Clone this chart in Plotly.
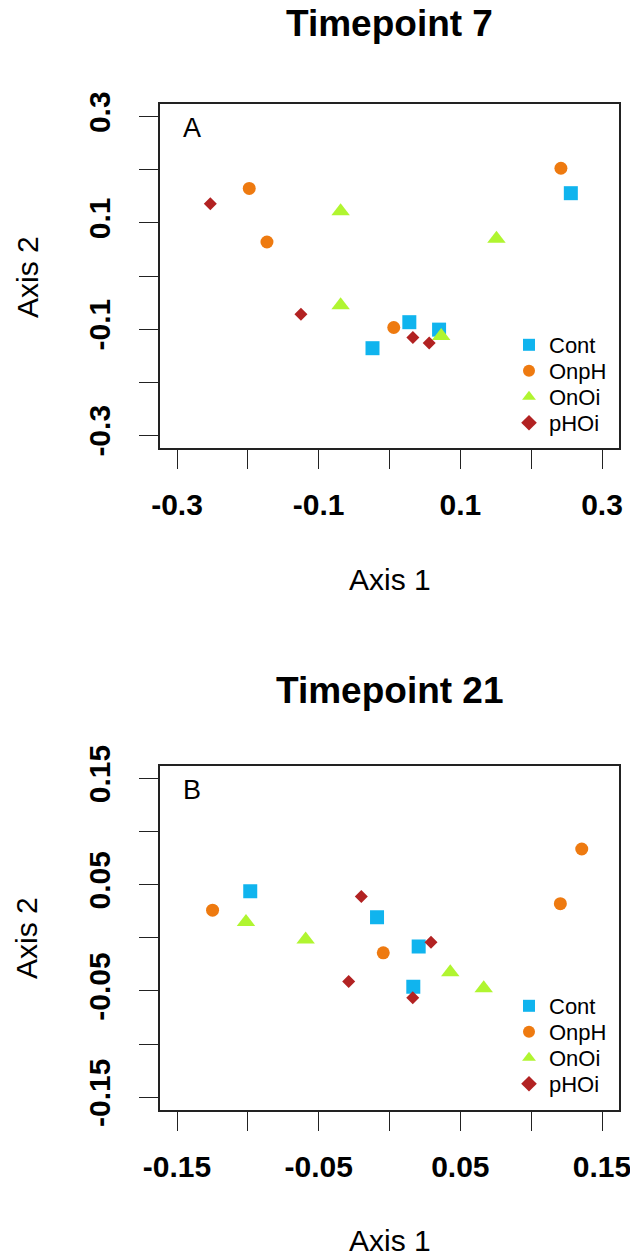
import plotly.graph_objects as go

W, H = 630, 1257

groups = ["Cont", "OnpH", "OnOi", "pHOi"]
colors = {"Cont": "#10B4EE", "OnpH": "#EE7A10", "OnOi": "#B0F530", "pHOi": "#B22222"}
symbols = {"Cont": "square", "OnpH": "circle", "OnOi": "triangle-up", "pHOi": "diamond"}
sizes = {"Cont": 14, "OnpH": 13, "OnOi": 16, "pHOi": 10}

# Timepoint 7 (panel A)
a_cont_x = [0.256, 0.028, 0.070, -0.024]
a_cont_y = [0.156, -0.087, -0.101, -0.136]
a_onph_x = [0.242, -0.198, -0.173, 0.006]
a_onph_y = [0.203, 0.165, 0.064, -0.097]
a_onoi_x = [-0.069, 0.151, -0.069, 0.073]
a_onoi_y = [0.122, 0.070, -0.055, -0.113]
a_phoi_x = [-0.253, -0.125, 0.033, 0.056]
a_phoi_y = [0.136, -0.072, -0.116, -0.126]

# Timepoint 21 (panel B)
b_cont_x = [-0.0983, -0.0088, 0.0206, 0.0168]
b_cont_y = [0.0438, 0.0194, -0.0082, -0.0461]
b_onph_x = [0.1357, 0.1206, -0.1249, -0.0044]
b_onph_y = [0.0836, 0.0322, 0.0260, -0.0141]
b_onoi_x = [-0.1013, -0.0592, 0.0429, 0.0665]
b_onoi_y = [0.0150, -0.0016, -0.0323, -0.0474]
b_phoi_x = [-0.0199, 0.0293, -0.0288, 0.0164]
b_phoi_y = [0.0388, -0.0041, -0.0411, -0.0564]

a_ticks = [-0.3, -0.2, -0.1, 0.0, 0.1, 0.2, 0.3]
a_ticktext = ["-0.3", "", "-0.1", "", "0.1", "", "0.3"]
b_ticks = [-0.15, -0.10, -0.05, 0.0, 0.05, 0.10, 0.15]
b_ticktext = ["-0.15", "", "-0.05", "", "0.05", "", "0.15"]

titles = ["Timepoint 7", "Timepoint 21"]
panel_letters = ["A", "B"]
axis_x_label = "Axis 1"
axis_y_label = "Axis 2"

FONT = "Liberation Sans, Arial, sans-serif"

panelA = {"Cont": (a_cont_x, a_cont_y), "OnpH": (a_onph_x, a_onph_y),
          "OnOi": (a_onoi_x, a_onoi_y), "pHOi": (a_phoi_x, a_phoi_y)}
panelB = {"Cont": (b_cont_x, b_cont_y), "OnpH": (b_onph_x, b_onph_y),
          "OnOi": (b_onoi_x, b_onoi_y), "pHOi": (b_phoi_x, b_phoi_y)}

# legend row centres (px from top) for each panel
legend_rows = {"A": [345, 371, 397, 423], "B": [1006, 1032, 1058, 1084]}
legend_left_px = 509

fig = go.Figure()
legend_layouts = {}
k = 0
for pname, panel, xa, ya in [("A", panelA, "x", "y"), ("B", panelB, "x2", "y2")]:
    for i, g in enumerate(groups):
        k += 1
        leg = "legend" if k == 1 else f"legend{k}"
        xs, ys = panel[g]
        fig.add_trace(go.Scatter(
            x=xs, y=ys, mode="markers", name=g, xaxis=xa, yaxis=ya, legend=leg,
            marker=dict(symbol=symbols[g], color=colors[g], size=sizes[g], line=dict(width=0)),
        ))
        legend_layouts[leg] = dict(
            x=legend_left_px / W, y=1 - legend_rows[pname][i] / H,
            xanchor="left", yanchor="middle",
            font=dict(family=FONT, size=22, color="black"), bgcolor="rgba(0,0,0,0)",
            borderwidth=0, itemsizing="constant", itemwidth=30,
        )

x0, x1 = 160 / W, 619 / W
yA = [1 - 448 / H, 1 - 104 / H]
yB = [1 - 1110 / H, 1 - 765.7 / H]

def axis_common():
    return dict(showline=True, mirror=True, linecolor="#222", linewidth=1.6,
                ticks="outside", ticklen=19, tickwidth=1.4, tickcolor="#222",
                showgrid=False, zeroline=False, automargin=False,
                ticklabeloverflow="allow",
                tickfont=dict(family=FONT, size=30, color="black", weight="bold"))

ac = axis_common()
fig.update_layout(
    xaxis=dict(domain=[x0, x1], range=[-0.324, 0.324], tickvals=a_ticks, ticktext=a_ticktext,
               anchor="y", ticklabelstandoff=10, **ac),
    yaxis=dict(domain=yA, range=[-0.324, 0.324], tickvals=a_ticks, ticktext=a_ticktext,
               anchor="x", tickangle=-90, ticklabelstandoff=17, **ac),
    xaxis2=dict(domain=[x0, x1], range=[-0.162, 0.162], tickvals=b_ticks, ticktext=b_ticktext,
                anchor="y2", ticklabelstandoff=10, **ac),
    yaxis2=dict(domain=yB, range=[-0.162, 0.162], tickvals=b_ticks, ticktext=b_ticktext,
                anchor="x2", tickangle=-90, ticklabelstandoff=17, **ac),
)
fig.update_layout(**legend_layouts)

ann = []
xc = (160 + 619) / 2 / W
for t, ycen in zip(titles, [24, 690]):
    ann.append(dict(text=t, x=xc, y=1 - ycen / H, xref="paper", yref="paper",
                    xanchor="center", yanchor="middle", showarrow=False,
                    font=dict(family=FONT, size=37, color="black", weight="bold")))
for ycen in [579, 1240]:
    ann.append(dict(text=axis_x_label, x=xc, y=1 - ycen / H, xref="paper", yref="paper",
                    xanchor="center", yanchor="middle", showarrow=False,
                    font=dict(family=FONT, size=30, color="black")))
for ycen in [277, 938]:
    ann.append(dict(text=axis_y_label, x=27 / W, y=1 - ycen / H, xref="paper", yref="paper",
                    xanchor="center", yanchor="middle", showarrow=False, textangle=-90,
                    font=dict(family=FONT, size=30, color="black")))
for letter, ycen in zip(panel_letters, [128, 790]):
    ann.append(dict(text=letter, x=192 / W, y=1 - ycen / H, xref="paper", yref="paper",
                    xanchor="center", yanchor="middle", showarrow=False,
                    font=dict(family=FONT, size=27, color="black")))

fig.update_layout(
    width=W, height=H, margin=dict(l=0, r=0, t=0, b=0, autoexpand=False),
    paper_bgcolor="white", plot_bgcolor="white",
    annotations=ann, showlegend=True,
)

fig.write_html("out.html", config={"displayModeBar": False})
